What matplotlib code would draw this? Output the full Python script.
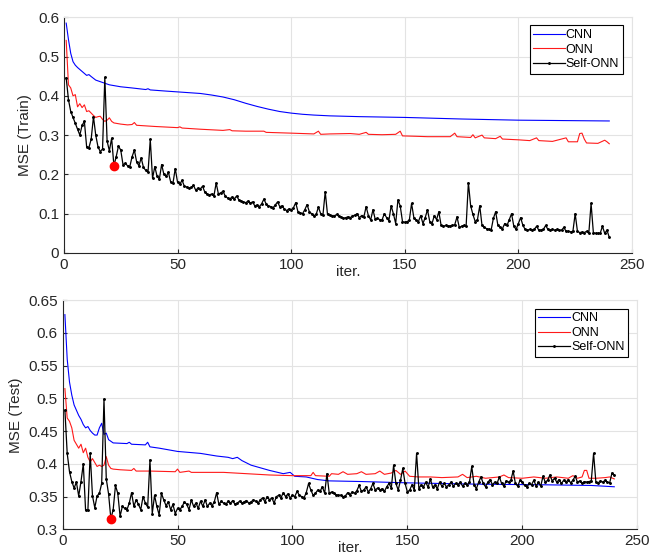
import matplotlib
matplotlib.use("Agg")
import matplotlib.pyplot as plt

plt.rcParams['font.family'] = ['Liberation Sans', 'DejaVu Sans']

# iteracoes (1..240) para as curvas Self-ONN
it = list(range(1, 241))

# ---------------- Train ----------------
cnn_train_x = [1, 2, 3, 4, 5, 6, 8, 10, 11, 12, 14, 17, 20, 25, 30, 36, 37, 38, 45, 50,
               60, 65, 70, 75, 80, 85, 90, 95, 100, 105, 110, 117, 130, 150, 175, 200, 220, 240]
cnn_train = [0.585, 0.543, 0.508, 0.487, 0.478, 0.472, 0.462, 0.452, 0.454, 0.449, 0.44, 0.434,
             0.428, 0.423, 0.42, 0.416, 0.418, 0.415, 0.412, 0.41, 0.406, 0.402, 0.397, 0.39,
             0.381, 0.373, 0.366, 0.36, 0.356, 0.353, 0.351, 0.349, 0.347, 0.345, 0.341, 0.338,
             0.337, 0.336]

onn_train_x = [1, 2, 3, 4, 5, 6, 7, 8, 9, 10, 11, 12, 13, 14, 15, 16, 17, 18, 19, 20, 21, 22,
               25, 28, 30, 31, 32, 40, 50, 51, 52, 60, 70, 73, 74, 80, 88, 89, 100, 110, 112,
               113, 117, 126, 130, 133, 134, 140, 146, 148, 149, 155, 160, 170, 172, 173, 179,
               180, 181, 184, 185, 190, 192, 193, 200, 205, 208, 209, 215, 221, 222, 226, 227,
               228, 229, 230, 235, 238, 239, 240]
onn_train = [0.541, 0.428, 0.42, 0.40, 0.403, 0.372, 0.38, 0.37, 0.377, 0.36, 0.362, 0.356,
             0.35, 0.345, 0.347, 0.348, 0.34, 0.335, 0.338, 0.344, 0.335, 0.331, 0.328, 0.326,
             0.327, 0.332, 0.325, 0.322, 0.319, 0.321, 0.318, 0.315, 0.312, 0.314, 0.311, 0.31,
             0.31, 0.307, 0.305, 0.303, 0.31, 0.302, 0.303, 0.304, 0.302, 0.307, 0.302, 0.301,
             0.302, 0.31, 0.298, 0.297, 0.296, 0.296, 0.305, 0.296, 0.294, 0.301, 0.293, 0.3,
             0.293, 0.291, 0.297, 0.29, 0.288, 0.286, 0.293, 0.286, 0.284, 0.293, 0.283, 0.283,
             0.304, 0.305, 0.29, 0.28, 0.279, 0.287, 0.283, 0.278]

self_train = [
    0.446, 0.39, 0.36, 0.345, 0.33, 0.315, 0.30, 0.325, 0.335, 0.27,
    0.268, 0.29, 0.347, 0.30, 0.27, 0.258, 0.265, 0.447, 0.285, 0.26,
    0.292, 0.222, 0.245, 0.272, 0.262, 0.225, 0.228, 0.222, 0.22, 0.245,
    0.262, 0.232, 0.222, 0.242, 0.218, 0.21, 0.205, 0.289, 0.19, 0.22,
    0.195, 0.188, 0.225, 0.2, 0.195, 0.205, 0.18, 0.178, 0.215, 0.18,
    0.175, 0.185, 0.17, 0.168, 0.165, 0.167, 0.172, 0.16, 0.165, 0.163,
    0.17, 0.155, 0.15, 0.148, 0.15, 0.145, 0.178, 0.15, 0.153, 0.157,
    0.145, 0.14, 0.138, 0.142, 0.138, 0.145, 0.135, 0.132, 0.13, 0.128,
    0.132, 0.127, 0.13, 0.12, 0.122, 0.118, 0.125, 0.137, 0.125, 0.12,
    0.118, 0.115, 0.122, 0.13, 0.118, 0.12, 0.112, 0.108, 0.112, 0.11,
    0.115, 0.128, 0.105, 0.102, 0.1, 0.11, 0.123, 0.105, 0.1, 0.095,
    0.098, 0.117, 0.1, 0.097, 0.156, 0.098, 0.096, 0.095, 0.094, 0.098,
    0.093, 0.092, 0.088, 0.09, 0.092, 0.09, 0.094, 0.096, 0.1, 0.09,
    0.095, 0.092, 0.118, 0.095, 0.084, 0.11, 0.086, 0.088, 0.085, 0.084,
    0.1, 0.09, 0.082, 0.12, 0.1, 0.075, 0.135, 0.12, 0.08, 0.078,
    0.08, 0.083, 0.126, 0.09, 0.084, 0.08, 0.095, 0.075, 0.09, 0.11,
    0.08, 0.075, 0.095, 0.085, 0.105, 0.07, 0.068, 0.07, 0.068, 0.069,
    0.07, 0.072, 0.092, 0.065, 0.068, 0.07, 0.068, 0.179, 0.12, 0.098,
    0.08, 0.085, 0.12, 0.07, 0.065, 0.062, 0.06, 0.058, 0.088, 0.105,
    0.07, 0.065, 0.062, 0.075, 0.07, 0.085, 0.1, 0.068, 0.06, 0.075,
    0.09, 0.07, 0.06, 0.058, 0.06, 0.058, 0.06, 0.068, 0.058, 0.058,
    0.06, 0.07, 0.06, 0.058, 0.06, 0.058, 0.06, 0.058, 0.058, 0.065,
    0.055, 0.055, 0.054, 0.055, 0.1, 0.055, 0.052, 0.053, 0.052, 0.055,
    0.05, 0.126, 0.052, 0.05, 0.05, 0.05, 0.068, 0.05, 0.058, 0.04]

best_train_x = 22
best_train = 0.222

# ---------------- Test ----------------
cnn_test_x = [1, 2, 3, 4, 5, 6, 7, 8, 9, 10, 11, 12, 13, 14, 15, 16, 17, 18, 19, 20, 22, 28,
              29, 30, 36, 37, 38, 42, 50, 60, 67, 72, 74, 76, 78, 82, 90, 96, 99, 101, 106,
              111, 116, 130, 150, 180, 210, 230, 240]
cnn_test = [0.628, 0.56, 0.525, 0.505, 0.49, 0.482, 0.474, 0.468, 0.46, 0.455, 0.457, 0.451,
            0.447, 0.444, 0.444, 0.455, 0.462, 0.445, 0.447, 0.437, 0.432, 0.431, 0.433, 0.43,
            0.429, 0.433, 0.426, 0.424, 0.419, 0.416, 0.412, 0.41, 0.408, 0.41, 0.405, 0.398,
            0.39, 0.385, 0.387, 0.381, 0.38, 0.376, 0.374, 0.373, 0.371, 0.369, 0.368, 0.367,
            0.365]

onn_test_x = [1, 2, 3, 4, 5, 6, 7, 8, 9, 10, 11, 12, 13, 14, 15, 16, 17, 18, 19, 20, 21, 22,
              25, 30, 31, 32, 38, 49, 50, 51, 55, 56, 70, 80, 90, 100, 108, 109, 110, 116,
              117, 120, 122, 124, 128, 130, 132, 136, 138, 140, 143, 145, 147, 149, 151, 155,
              160, 165, 172, 174, 176, 180, 184, 190, 192, 194, 200, 205, 210, 215, 220, 222,
              224, 226, 227, 228, 229, 232, 236, 238, 240]
onn_test = [0.515, 0.47, 0.465, 0.455, 0.436, 0.43, 0.424, 0.43, 0.417, 0.424, 0.41, 0.403,
            0.408, 0.402, 0.396, 0.398, 0.396, 0.398, 0.411, 0.398, 0.393, 0.392, 0.391, 0.39,
            0.393, 0.389, 0.389, 0.388, 0.392, 0.387, 0.389, 0.387, 0.387, 0.385, 0.383, 0.382,
            0.382, 0.387, 0.382, 0.381, 0.385, 0.384, 0.388, 0.384, 0.385, 0.388, 0.384, 0.385,
            0.389, 0.384, 0.386, 0.39, 0.384, 0.389, 0.381, 0.38, 0.38, 0.379, 0.38, 0.384,
            0.379, 0.381, 0.378, 0.38, 0.383, 0.379, 0.378, 0.38, 0.378, 0.38, 0.378, 0.382,
            0.378, 0.38, 0.39, 0.39, 0.378, 0.378, 0.379, 0.38, 0.377]

self_test = [
    0.482, 0.416, 0.388, 0.373, 0.363, 0.372, 0.351, 0.373, 0.40, 0.329,
    0.329, 0.416, 0.351, 0.333, 0.351, 0.355, 0.37, 0.499, 0.377, 0.354,
    0.316, 0.33, 0.367, 0.355, 0.32, 0.335, 0.332, 0.33, 0.34, 0.356,
    0.335, 0.345, 0.338, 0.33, 0.35, 0.34, 0.334, 0.406, 0.324, 0.352,
    0.335, 0.322, 0.355, 0.345, 0.336, 0.342, 0.33, 0.338, 0.324, 0.332,
    0.33, 0.335, 0.342, 0.338, 0.33, 0.345, 0.335, 0.34, 0.332, 0.343,
    0.335, 0.345, 0.335, 0.34, 0.336, 0.342, 0.356, 0.338, 0.343, 0.34,
    0.338, 0.343, 0.34, 0.344, 0.338, 0.34, 0.343, 0.34, 0.342, 0.344,
    0.34, 0.342, 0.345, 0.343, 0.34, 0.345, 0.348, 0.342, 0.35, 0.345,
    0.348, 0.34, 0.35, 0.352, 0.348, 0.356, 0.35, 0.354, 0.348, 0.352,
    0.35, 0.358, 0.352, 0.35, 0.348, 0.356, 0.37, 0.36, 0.352, 0.355,
    0.36, 0.358, 0.365, 0.355, 0.385, 0.355, 0.357, 0.355, 0.353, 0.352,
    0.352, 0.35, 0.351, 0.356, 0.353, 0.357, 0.355, 0.359, 0.367, 0.358,
    0.36, 0.365, 0.357, 0.362, 0.37, 0.36, 0.363, 0.36, 0.362, 0.358,
    0.365, 0.37, 0.363, 0.398, 0.37, 0.36, 0.375, 0.393, 0.37, 0.357,
    0.36, 0.368, 0.36, 0.416, 0.362, 0.368, 0.365, 0.372, 0.364, 0.377,
    0.364, 0.368, 0.362, 0.372, 0.366, 0.37, 0.365, 0.368, 0.372, 0.366,
    0.37, 0.368, 0.372, 0.366, 0.37, 0.368, 0.372, 0.396, 0.368, 0.362,
    0.372, 0.38, 0.37, 0.365, 0.372, 0.376, 0.368, 0.372, 0.37, 0.38,
    0.37, 0.366, 0.374, 0.372, 0.375, 0.389, 0.37, 0.366, 0.375, 0.372,
    0.367, 0.365, 0.37, 0.368, 0.375, 0.366, 0.372, 0.366, 0.381, 0.372,
    0.375, 0.383, 0.374, 0.378, 0.372, 0.376, 0.37, 0.375, 0.372, 0.376,
    0.371, 0.375, 0.381, 0.372, 0.374, 0.37, 0.373, 0.372, 0.373, 0.374,
    0.416, 0.372, 0.371, 0.374, 0.372, 0.375, 0.372, 0.371, 0.386, 0.383]

best_test_x = 21
best_test = 0.316

labels = ['CNN', 'ONN', 'Self-ONN']
xticks = [0, 50, 100, 150, 200, 250]
yticks_train = [0, 0.1, 0.2, 0.3, 0.4, 0.5, 0.6]
yticks_test = [0.3, 0.35, 0.4, 0.45, 0.5, 0.55, 0.6, 0.65]

fig = plt.figure(figsize=(6.59, 5.56), dpi=100)
ax1 = fig.add_axes([0.097, 0.545, 0.862, 0.424])
ax2 = fig.add_axes([0.095, 0.048, 0.872, 0.412])

cor_eixo = '#262626'


def desenha(ax, cx, cy, ox, oy, sy, bx, by, yticks, ylabel, leg_anchor):
    ax.plot(cx, cy, color=(0, 0, 1), lw=0.8, label=labels[0])
    ax.plot(ox, oy, color=(1, 0.1, 0.1), lw=0.8, label=labels[1])
    ax.plot(it, sy, color='k', lw=0.9, marker='.', markersize=2.2, label=labels[2])
    ax.plot([bx], [by], 'o', color='red', markersize=6, zorder=5)

    ax.set_xlim(0, 250)
    ax.set_ylim(yticks[0], yticks[-1])
    ax.set_xticks(xticks)
    ax.set_yticks(yticks)
    ax.set_yticklabels(['%g' % v for v in yticks])
    ax.grid(True, color='#e3e3e3', lw=0.8)
    ax.set_axisbelow(True)
    for s in ['top', 'right']:
        ax.spines[s].set_color('#e3e3e3')
    for s in ['left', 'bottom']:
        ax.spines[s].set_color(cor_eixo)
        ax.spines[s].set_linewidth(0.8)
    ax.tick_params(direction='in', length=3, labelsize=11, colors=cor_eixo,
                   top=False, right=False)
    ax.set_ylabel(ylabel, fontsize=11, color=cor_eixo, labelpad=4)
    ax.set_xlabel('iter.', fontsize=11, color=cor_eixo, labelpad=-5)

    leg = ax.legend(loc='upper right', bbox_to_anchor=leg_anchor, fontsize=9,
                    fancybox=False, framealpha=1, edgecolor='k', handlelength=2.5,
                    handletextpad=0.1, borderpad=0.3, labelspacing=0.2,
                    borderaxespad=0, numpoints=1)
    leg.get_frame().set_linewidth(0.8)


desenha(ax1, cnn_train_x, cnn_train, onn_train_x, onn_train, self_train,
        best_train_x, best_train, yticks_train, 'MSE (Train)', (0.984, 0.966))
desenha(ax2, cnn_test_x, cnn_test, onn_test_x, onn_test, self_test,
        best_test_x, best_test, yticks_test, 'MSE (Test)', (0.984, 0.963))

fig.savefig('out.png', dpi=100)
